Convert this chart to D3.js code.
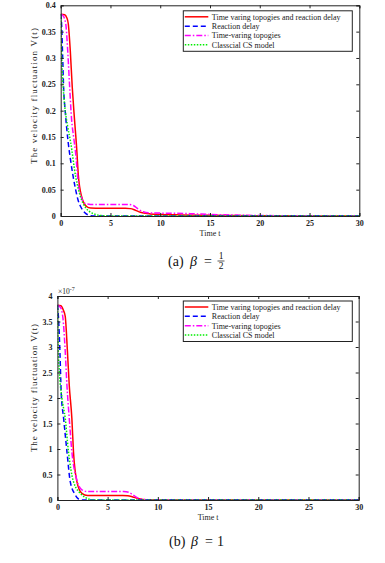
<!DOCTYPE html>
<html><head><meta charset="utf-8">
<script src="https://cdn.jsdelivr.net/npm/d3@7"></script>
<style>
body{margin:0;background:#fff;}
svg{display:block;}
svg text{font-family:"Liberation Serif","Times New Roman","DejaVu Serif",serif;}
</style></head>
<body>
<svg id="c" width="385" height="563"></svg>
<script>
// ---------- data ----------
const seriesNames = ["Time varing topogies and reaction delay","Reaction delay","Time-varing topogies","Classcial CS model"];
const seriesColors = ["#ff0000","#0000ff","#ff00ff","#00ee00"];
const xTicks = [0,5,10,15,20,25,30];
const yTicksA = [0,0.05,0.1,0.15,0.2,0.25,0.3,0.35,0.4];
const yTickLabelsA = ["0","0.05","0.1","0.15","0.2","0.25","0.3","0.35","0.4"];
const yTicksB = [0,0.5,1,1.5,2,2.5,3,3.5,4];
const yTickLabelsB = ["0","0.5","1","1.5","2","2.5","3","3.5","4"];

// panel (a): beta = 1/2
const aRed = [[0,0.383],[0.4,0.382],[0.6,0.377],[0.76,0.365],[0.96,0.315],[1.16,0.245],[1.36,0.19],[1.6,0.13],[1.77,0.078],[2.1,0.037],[2.6,0.018],[3,0.015],[4,0.0145],[6.5,0.0145],[7,0.014],[7.5,0.011],[8,0.007],[8.5,0.005],[9,0.004],[10,0.003],[12,0.002],[15,0.0012],[20,0.0005],[25,0.0002],[30,0.0001]];
const aBlue = [[0,0.383],[0.1,0.36],[0.2,0.3],[0.3,0.24],[0.45,0.2],[0.75,0.14],[1.0,0.105],[1.25,0.075],[1.5,0.05],[1.75,0.03],[2.0,0.018],[2.25,0.01],[2.5,0.005],[2.75,0.002],[3,0.0005],[3.5,0],[30,0]];
const aMagenta = [[0,0.383],[0.2,0.381],[0.5,0.366],[0.7,0.315],[0.9,0.245],[1.1,0.182],[1.3,0.15],[1.5,0.119],[1.77,0.062],[2.1,0.034],[2.43,0.024],[3,0.022],[6.8,0.022],[7.3,0.02],[7.8,0.013],[8.3,0.008],[8.8,0.006],[10,0.0055],[13,0.0045],[15,0.003],[18,0.0015],[20,0.001],[25,0.0003],[30,0.0001]];
const aGreen = [[0,0.383],[0.1,0.3],[0.2,0.26],[0.4,0.21],[0.7,0.17],[1.0,0.14],[1.5,0.075],[2.0,0.036],[2.5,0.016],[3,0.007],[3.5,0.003],[4,0.001],[5,0],[30,0]];

// panel (b): beta = 1 (units of 1e-7)
const bRed = [[0,3.82],[0.35,3.81],[0.6,3.72],[0.78,3.6],[1.0,2.91],[1.18,2.25],[1.44,1.6],[1.6,0.95],[1.94,0.36],[2.44,0.13],[3,0.09],[6.5,0.09],[7,0.085],[7.5,0.06],[8,0.03],[8.5,0.01],[9,0.003],[10,0],[30,0]];
const bBlue = [[0,3.82],[0.1,3.6],[0.25,2.91],[0.38,2.1],[0.62,1.6],[0.95,0.95],[1.28,0.36],[1.78,0.1],[2.1,0.02],[2.5,0],[30,0]];
const bMagenta = [[0,3.82],[0.3,3.78],[0.55,3.57],[0.78,2.91],[0.95,2.25],[1.18,1.6],[1.44,0.95],[1.94,0.39],[2.44,0.2],[3,0.165],[6.6,0.165],[7.1,0.15],[7.6,0.09],[8.1,0.03],[8.6,0.008],[9.5,0],[30,0]];
const bGreen = [[0,3.82],[0.08,3.0],[0.2,2.5],[0.45,2.0],[0.78,1.6],[1.1,0.95],[1.6,0.36],[2.44,0.1],[3.1,0.02],[3.6,0],[30,0]];

// ---------- drawing ----------
const FONT = "'Liberation Serif','Times New Roman','DejaVu Serif',serif";
const svg = d3.select("#c");
const dashes = [null,"5,3","6,2,1.5,2","1.5,1.5"];

function panel(cfg){
  const x = d3.scaleLinear().domain([0,30]).range([cfg.left,cfg.right]);
  const y = d3.scaleLinear().domain(cfg.ydom).range([cfg.bottom,cfg.top]);
  const g = svg.append("g");
  const clipId = "clip"+cfg.id;
  svg.append("clipPath").attr("id",clipId).append("rect")
    .attr("x",cfg.left).attr("y",cfg.top-2).attr("width",cfg.right-cfg.left).attr("height",cfg.bottom-cfg.top+2);

  const line = d3.line().x(d=>x(d[0])).y(d=>y(d[1])).curve(d3.curveMonotoneX);
  const data = cfg.series;
  const order = [0,2,1,3];
  order.forEach(i=>{
    g.append("path").datum(data[i]).attr("d",line)
      .attr("clip-path","url(#"+clipId+")")
      .attr("fill","none").attr("stroke",seriesColors[i])
      .attr("stroke-width",1.5)
      .attr("stroke-dasharray",dashes[i]);
  });

  const axB = d3.axisBottom(x).tickValues(xTicks).tickSize(-3).tickPadding(4).tickFormat(d3.format("d"));
  const axT = d3.axisTop(x).tickValues(xTicks).tickSize(-3).tickFormat("");
  const axL = d3.axisLeft(y).tickValues(cfg.yticks).tickSize(-3).tickPadding(5).tickFormat((d,i)=>cfg.ylabels[i]);
  const axR = d3.axisRight(y).tickValues(cfg.yticks).tickSize(-3).tickFormat("");
  const gb = g.append("g").attr("transform",`translate(0,${cfg.bottom})`).call(axB);
  const gt = g.append("g").attr("transform",`translate(0,${cfg.top})`).call(axT);
  const gl = g.append("g").attr("transform",`translate(${cfg.left},0)`).call(axL);
  const gr = g.append("g").attr("transform",`translate(${cfg.right},0)`).call(axR);
  [gb,gt,gl,gr].forEach(a=>{
    a.attr("font-family",FONT);
    a.select(".domain").attr("stroke","#222").attr("stroke-width",1);
    a.selectAll(".tick line").attr("stroke","#222");
    a.selectAll("text").attr("font-size",8).attr("font-weight","bold").attr("fill","#222")
      .attr("font-family",FONT);
  });

  g.append("text").attr("x",(cfg.left+cfg.right)/2).attr("y",cfg.bottom+19.5)
    .attr("text-anchor","middle").attr("font-size",8).attr("fill","#222").attr("font-family",FONT).text("Time t");
  g.append("text").attr("transform",`translate(${cfg.ylabX},${cfg.ylabY}) rotate(-90)`)
    .attr("text-anchor","middle").attr("font-size",9).attr("fill","#222").attr("font-family",FONT)
    .attr("textLength",cfg.ylabLen).attr("lengthAdjust","spacing")
    .text("The velocity fluctuation V(t)");

  const lg = g.append("g");
  lg.append("rect").attr("x",cfg.legX).attr("y",cfg.legY).attr("width",169).attr("height",40.5)
    .attr("fill","#fff").attr("stroke","#222").attr("stroke-width",1);
  seriesNames.forEach((n,i)=>{
    const yy = cfg.legY+6+i*9.35;
    lg.append("line").attr("x1",cfg.legX+1.5).attr("x2",cfg.legX+25).attr("y1",yy).attr("y2",yy)
      .attr("stroke",seriesColors[i]).attr("stroke-width",1.5).attr("stroke-dasharray",dashes[i]);
    lg.append("text").attr("x",cfg.legX+28.5).attr("y",yy+2.8).attr("font-size",8).attr("fill","#222")
      .attr("font-family",FONT).text(n);
  });
  return {x,y,g};
}

panel({id:"a",left:60.7,right:359.3,top:5.3,bottom:216,ydom:[0,0.4],yticks:yTicksA,ylabels:yTickLabelsA,
  series:[aRed,aBlue,aMagenta,aGreen],ylabX:36.7,ylabY:96,ylabLen:136,legX:183.3,legY:10.8});
panel({id:"b",left:57.4,right:358.7,top:296,bottom:500,ydom:[0,4],yticks:yTicksB,ylabels:yTickLabelsB,
  series:[bRed,bBlue,bMagenta,bGreen],ylabX:37,ylabY:388,ylabLen:128,legX:183.3,legY:301});

const ex = svg.append("text").attr("x",58).attr("y",294).attr("font-size",7.5).attr("fill","#222").attr("font-family",FONT);
ex.append("tspan").text("\u00d710");
ex.append("tspan").attr("dy",-3.5).attr("font-size",6).text("-7");

function t(x,y,s,size,italic,anchor){
  return svg.append("text").attr("x",x).attr("y",y).attr("font-size",size).attr("fill","#111")
    .attr("font-family",FONT).attr("font-style",italic?"italic":null)
    .attr("text-anchor",anchor||"start").text(s);
}
// caption (a)
t(168,266,"(a)",14);
t(190,266,"\u03b2",14,true);
t(204,266,"=",14);
t(221,259,"1",9.5,false,"middle");
svg.append("line").attr("x1",217.5).attr("x2",224.5).attr("y1",261).attr("y2",261).attr("stroke","#111").attr("stroke-width",0.7);
t(221,269,"2",9.5,false,"middle");
// caption (b)
t(169,546,"(b)",14);
t(191,546,"\u03b2",14,true);
t(205,546,"=",14);
t(217,546,"1",14);
</script>
</body></html>
